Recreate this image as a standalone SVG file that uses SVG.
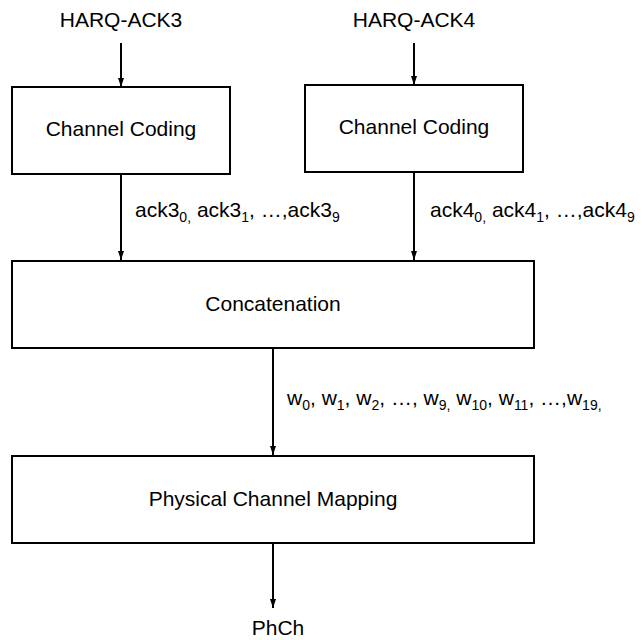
<svg xmlns="http://www.w3.org/2000/svg" width="642" height="640" viewBox="0 0 642 640">
<defs>
<marker id="ah" markerWidth="9" markerHeight="6" refX="9" refY="3" orient="auto" markerUnits="userSpaceOnUse" viewBox="0 0 9 6">
<path d="M0,0 L9,3 L0,6 Z" fill="#000"/>
</marker>
<style>
text{font-family:"Liberation Sans",Arial,sans-serif;font-size:21px;fill:#000}
.lbl{text-anchor:middle}
.sub{font-size:14px}
.box{fill:#fff;stroke:#000;stroke-width:2}
line{stroke:#000;stroke-width:2}
</style>
</defs>
<rect width="642" height="640" fill="#fff"/>
<g id="connectors">
<line x1="121" y1="43" x2="121" y2="87" marker-end="url(#ah)"/>
<line x1="414" y1="43" x2="414" y2="85" marker-end="url(#ah)"/>
<line x1="121" y1="174" x2="121" y2="260" marker-end="url(#ah)"/>
<line x1="414" y1="172" x2="414" y2="260" marker-end="url(#ah)"/>
<line x1="273" y1="348" x2="273" y2="455" marker-end="url(#ah)"/>
<line x1="273" y1="543" x2="273" y2="608" marker-end="url(#ah)"/>
</g>
<g id="in3"><text class="lbl" x="121" y="27">HARQ-ACK3</text></g>
<g id="in4"><text class="lbl" x="414" y="27">HARQ-ACK4</text></g>
<g id="cc3"><rect class="box" x="12" y="87" width="218" height="87"/><text class="lbl" x="121" y="136">Channel Coding</text></g>
<g id="cc4"><rect class="box" x="305" y="85" width="218" height="87"/><text class="lbl" x="414" y="134">Channel Coding</text></g>
<g id="concat"><rect class="box" x="12" y="261" width="522" height="87"/><text class="lbl" x="273" y="311">Concatenation</text></g>
<g id="pcm"><rect class="box" x="12" y="456" width="522" height="87"/><text class="lbl" x="273" y="506">Physical Channel Mapping</text></g>
<g id="out"><text class="lbl" x="278" y="635">PhCh</text></g>
<g id="labels">
<text x="135" y="217">ack3<tspan class="sub" dy="5">0,</tspan><tspan dy="-5"> ack3</tspan><tspan class="sub" dy="5">1</tspan><tspan dy="-5">, …,ack3</tspan><tspan class="sub" dy="5">9</tspan></text>
<text x="430" y="217">ack4<tspan class="sub" dy="5">0,</tspan><tspan dy="-5"> ack4</tspan><tspan class="sub" dy="5">1</tspan><tspan dy="-5">, …,ack4</tspan><tspan class="sub" dy="5">9</tspan></text>
<text x="287" y="405">w<tspan class="sub" dy="5">0</tspan><tspan dy="-5">, w</tspan><tspan class="sub" dy="5">1</tspan><tspan dy="-5">, w</tspan><tspan class="sub" dy="5">2</tspan><tspan dy="-5">, …, w</tspan><tspan class="sub" dy="5">9,</tspan><tspan dy="-5"> w</tspan><tspan class="sub" dy="5">10</tspan><tspan dy="-5">, w</tspan><tspan class="sub" dy="5">11</tspan><tspan dy="-5">, …,w</tspan><tspan class="sub" dy="5">19,</tspan></text>
</g>
</svg>
